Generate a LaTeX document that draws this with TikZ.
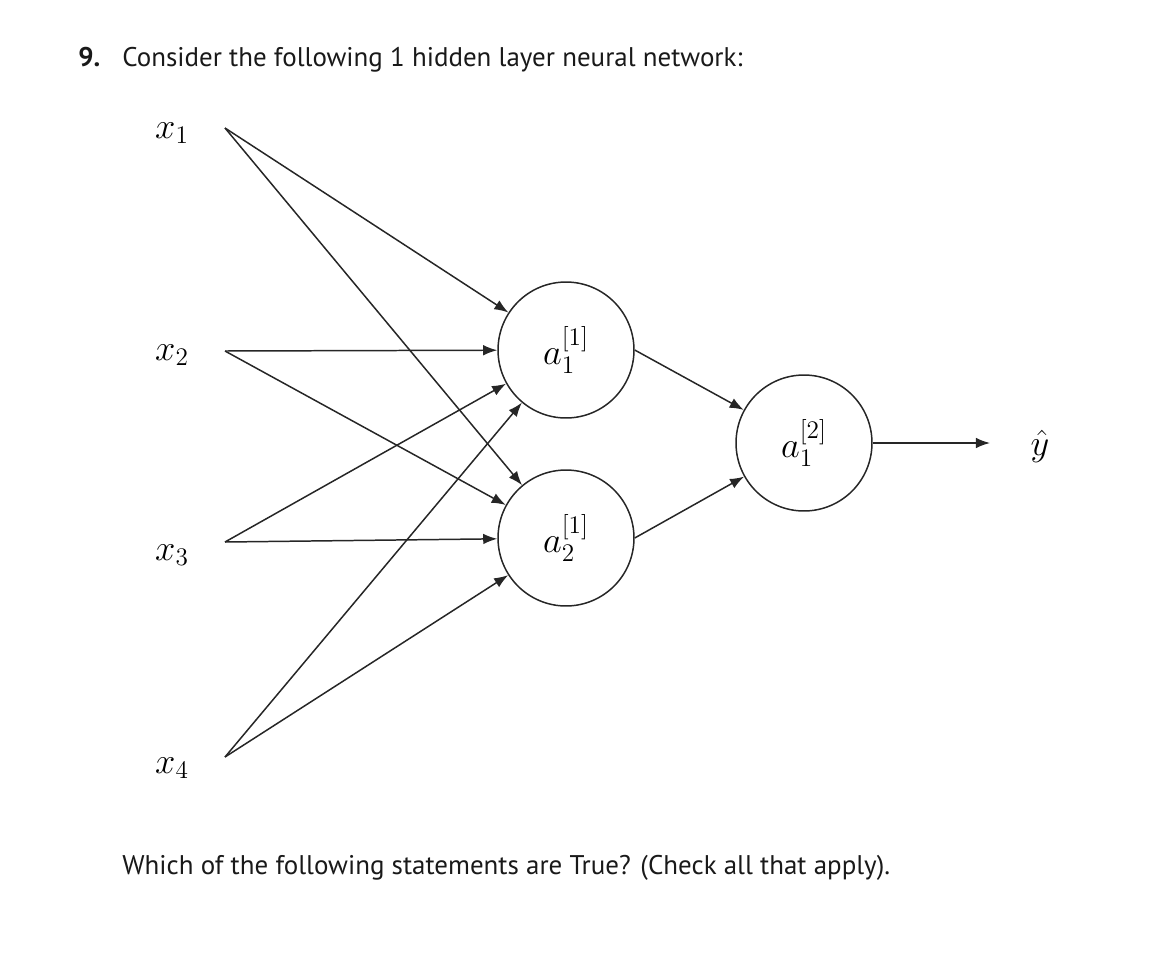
\documentclass[tikz,border=0pt]{standalone}
\usepackage{fontspec}
\setmainfont{PT Sans}
\usepackage{amsmath}
\usetikzlibrary{positioning,arrows.meta}

\begin{document}
\begin{tikzpicture}[x=0.02cm,y=-0.02cm,>={Latex[length=8pt,width=6pt]},
    neuron/.style={draw=black!85,line width=0.85pt,circle,minimum size=2.72cm,inner sep=0pt,font=\fontsize{20}{24}\selectfont},
    inlabel/.style={font=\fontsize{20}{24}\selectfont},
    link/.style={->,draw=black!85,line width=0.85pt},
    txt/.style={anchor=base west,inner sep=0pt,text=black!90,font=\fontsize{15.35}{18}\selectfont}]
  \useasboundingbox (0,0) rectangle (1150,954);

  % question text
  \node[txt] (qnum) at (78,66) {\textbf{9.}};
  \node[txt] (title) at (122,66) {Consider the following 1 hidden layer neural network:};

  % inputs
  \node[inlabel] (x1) at (172,133) {$x_1$};
  \node[inlabel] (x2) at (172,355) {$x_2$};
  \node[inlabel] (x3) at (172,555) {$x_3$};
  \node[inlabel] (x4) at (172,768) {$x_4$};
  \coordinate (s1) at (225,128);
  \coordinate (s2) at (225,351);
  \coordinate (s3) at (225,542);
  \coordinate (s4) at (225,757);

  % hidden and output units
  \node[neuron] (h1) at (566,350) {$a^{[1]}_1$};
  \node[neuron] (h2) at (566,538) {$a^{[1]}_2$};
  \node[neuron] (o) at (804,443) {$a^{[2]}_1$};
  \coordinate (yend) at (990,443);
  \node[font=\fontsize{20}{24}\selectfont] (yhat) at (1040,446) {$\hat{y}$};

  \foreach \i in {1,...,4}
    \foreach \j in {1,2}
      \draw[link] (s\i) -- (h\j);
  \draw[link] (h1.east) -- (o);
  \draw[link] (h2.east) -- (o);
  \draw[link] (o) -- (yend);

  \node[txt] (question) at (122,874) {Which of the following statements are True? (Check all that apply).};
\end{tikzpicture}
\end{document}
